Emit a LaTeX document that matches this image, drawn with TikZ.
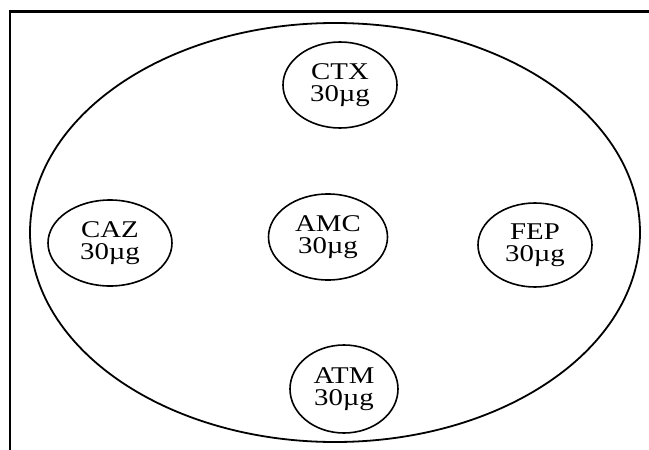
\documentclass[tikz,border=0pt]{standalone}
\usepackage{fontspec}
\setmainfont{Liberation Serif}
\usepackage{tikz}
\usetikzlibrary{shapes.geometric}
\newcommand{\wide}[1]{\scalebox{1.2}[1]{#1}}
\tikzstyle{plate}=[ellipse, draw=black, line width=1.8pt, inner sep=0pt]
\tikzstyle{disc} =[ellipse, draw=black, line width=1.6pt, inner sep=0pt,
                   align=center, font=\fontsize{24}{22}\selectfont]
\tikzstyle{frame}=[line width=2.5pt]

\begin{document}
\begin{tikzpicture}[x=1pt, y=-1pt]
  \useasboundingbox (0,0) rectangle (649,450);

  % ── frame (top and left edge) ──────────────────────────────────────────────
  \coordinate (tr) at (649, 11.5);
  \coordinate (tl) at (10, 11.5);
  \coordinate (bl) at (10, 450);
  \draw[frame] (tr) -- (tl) -- (bl);

  % ── plate ─────────────────────────────────────────────────────────────────
  \node[plate, minimum width=610pt, minimum height=419pt] (dish) at (335, 232.5) {};

  % ── discs ─────────────────────────────────────────────────────────────────
  \node[disc, minimum width=114pt, minimum height=86pt] (ctx) at (340, 85)  {\wide{CTX}\\\wide{30µg}};
  \node[disc, minimum width=119pt, minimum height=86pt] (amc) at (328, 237) {\wide{AMC}\\\wide{30µg}};
  \node[disc, minimum width=124pt, minimum height=86pt] (caz) at (110, 243) {\wide{CAZ}\\\wide{30µg}};
  \node[disc, minimum width=114pt, minimum height=84pt] (fep) at (535, 245) {\wide{FEP}\\\wide{30µg}};
  \node[disc, minimum width=108pt, minimum height=88pt] (atm) at (344, 389) {\wide{ATM}\\\wide{30µg}};

\end{tikzpicture}
\end{document}
